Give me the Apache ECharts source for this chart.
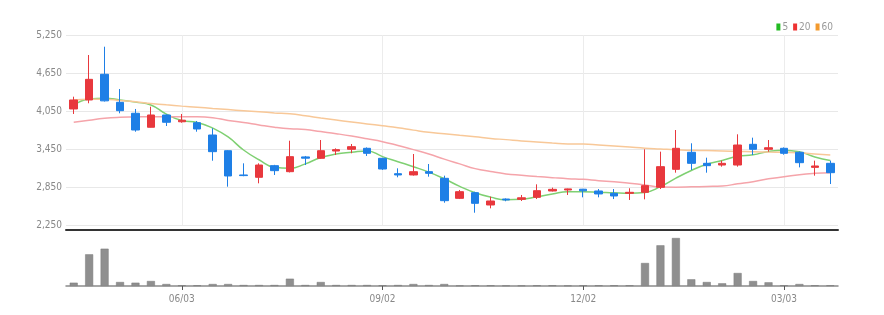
<!DOCTYPE html>
<html>
<head>
<meta charset="utf-8">
<script src="https://cdn.jsdelivr.net/npm/echarts@6/dist/echarts.min.js"></script>
<style>html,body{margin:0;padding:0;background:#fff}#c{width:884px;height:315px}</style>
</head>
<body>
<div id="c"></div>
<script>
const dates = ['04/15','04/22','04/29','05/06','05/13','05/20','05/27','06/03','06/10','06/17','06/24','07/01','07/08','07/15','07/22','07/29','08/05','08/12','08/19','08/26','09/02','09/09','09/16','09/23','09/30','10/07','10/14','10/21','10/28','11/04','11/11','11/18','11/25','12/02','12/09','12/16','12/23','12/30','01/06','01/13','01/20','01/27','02/03','02/10','02/17','02/24','03/03','03/10','03/17','03/24'];
const tickLabels = ['06/03','09/02','12/02','03/03'];
const openP  = [4082,4224,4630,4187,4014,3793,3987,3880,3865,3671,3423,3040,3003,3187,3092,3325,3303,3418,3445,3461,3303,3060,3040,3092,2987,2671,2760,2566,2660,2655,2687,2787,2803,2815,2787,2750,2750,2766,2845,3129,3398,3224,3197,3197,3524,3445,3461,3398,3160,3224];
const closeP = [4224,4550,4210,4055,3750,3987,3872,3905,3766,3408,3024,3030,3197,3108,3329,3305,3423,3440,3487,3382,3134,3040,3092,3066,2634,2776,2592,2629,2645,2680,2792,2813,2820,2790,2740,2708,2766,2871,3171,3461,3224,3187,3224,3513,3445,3470,3382,3234,3182,3076];
const lowP   = [4003,4172,4200,4014,3723,3790,3813,3865,3723,3265,2855,3020,2908,3040,3080,3197,3295,3355,3382,3340,3120,3003,3030,3013,2602,2660,2444,2513,2625,2629,2660,2780,2724,2687,2687,2660,2645,2655,2818,3076,3118,3076,3171,3171,3355,3408,3360,3160,3029,2897];
const highP  = [4276,4934,5065,4397,4082,4118,3995,4003,3892,3777,3430,3224,3224,3200,3581,3340,3592,3460,3529,3475,3310,3145,3371,3213,3029,2803,2775,2697,2670,2724,2892,2840,2825,2820,2818,2818,2830,3445,3408,3750,3540,3313,3266,3682,3629,3592,3475,3410,3266,3266];
const ma5  = [4140,4240,4250,4225,4190,4145,4000,3900,3870,3780,3640,3434,3280,3160,3145,3215,3315,3370,3398,3420,3330,3250,3171,3085,2980,2860,2760,2690,2648,2655,2695,2740,2776,2776,2768,2758,2752,2765,2855,2990,3110,3210,3270,3335,3360,3410,3432,3405,3325,3270];
const ma20 = [3871,3905,3935,3950,3955,3960,3960,3960,3960,3945,3900,3868,3830,3795,3770,3758,3725,3692,3655,3612,3566,3505,3440,3370,3290,3215,3140,3095,3057,3035,3015,2998,2982,2972,2950,2934,2910,2882,2850,2848,2852,2858,2866,2900,2934,2980,3010,3045,3066,3076];
const ma60 = [4225,4235,4235,4215,4195,4170,4147,4127,4110,4090,4072,4055,4038,4020,4005,3975,3940,3908,3875,3846,3816,3785,3748,3714,3690,3666,3642,3617,3598,3578,3562,3545,3530,3527,3513,3497,3480,3463,3450,3437,3430,3425,3420,3412,3406,3401,3397,3390,3372,3355];
const volume = [330,3170,3730,400,330,500,200,70,70,200,200,100,100,100,730,100,400,100,100,100,70,100,200,100,200,50,70,70,50,50,70,70,50,70,70,70,70,2300,4070,4800,670,400,270,1300,500,370,70,200,70,70];

const fontFam = "'Liberation Sans Narrow','DejaVu Sans Condensed',sans-serif";
const ohlc = dates.map((d,i)=>[openP[i], closeP[i], lowP[i], highP[i]]);
const isTick = (i)=> tickLabels.indexOf(dates[i]) >= 0;

const chart = echarts.init(document.getElementById('c'), null, {renderer:'canvas'});
chart.setOption({
  animation:false,
  backgroundColor:'#fff',
  legend:{
    right:46, top:17, itemWidth:4, itemHeight:7, itemGap:5, icon:'rect',
    textStyle:{color:'#999', fontSize:10, fontFamily:fontFam, padding:[0,0,0,-3]},
    data:['5','20','60']
  },
  grid:[
    {left:66, right:46, top:35, bottom:90},
    {left:66, right:46, top:232, bottom:29}
  ],
  xAxis:[
    {type:'category', gridIndex:0, data:dates, boundaryGap:true,
     offset:5,
     axisLine:{show:true, lineStyle:{color:'#333', width:2}},
     axisTick:{show:false}, axisLabel:{show:false}, splitLine:{show:false}},
    {type:'category', gridIndex:1, data:dates, boundaryGap:true,
     axisLine:{show:true, lineStyle:{color:'#8a8a8a', width:1.5}},
     axisTick:{show:true, alignWithLabel:true, interval:(i)=>isTick(i), length:4, lineStyle:{color:'#555'}},
     axisLabel:{show:true, interval:(i)=>isTick(i), color:'#888', fontSize:10, fontFamily:fontFam, margin:8},
     splitLine:{show:false}}
  ],
  yAxis:[
    {type:'value', gridIndex:0, min:2250, max:5250, interval:600,
     axisLine:{show:false}, axisTick:{show:false},
     axisLabel:{color:'#888', fontSize:10, fontFamily:fontFam, margin:4,
       formatter:(v)=>v.toLocaleString('en-US')},
     splitLine:{show:true, lineStyle:{color:'#e8e8e8', width:1}}},
    {type:'value', gridIndex:1, min:0, max:5400,
     axisLine:{show:false}, axisTick:{show:false}, axisLabel:{show:false}, splitLine:{show:false}}
  ],
  series:[
    {name:'5', type:'line', xAxisIndex:0, yAxisIndex:0, data:ma5, smooth:true, showSymbol:false,
     color:'#22bb22', lineStyle:{color:'#7fd072', width:1.5}, z:2},
    {name:'20', type:'line', xAxisIndex:0, yAxisIndex:0, data:ma20, smooth:true, showSymbol:false,
     color:'#ee3333', lineStyle:{color:'#f5a4aa', width:1.5}, z:2},
    {name:'60', type:'line', xAxisIndex:0, yAxisIndex:0, data:ma60, smooth:true, showSymbol:false,
     color:'#f39a2e', lineStyle:{color:'#f8c898', width:1.5}, z:2},
    {name:'price', type:'candlestick', xAxisIndex:0, yAxisIndex:0, data:ohlc, barWidth:8, z:3,
     itemStyle:{color:'#e8383d', color0:'#1e7fe6', borderColor:'#e8383d', borderColor0:'#1e7fe6', borderWidth:1},
     markLine:{silent:true, symbol:'none', label:{show:false}, z:1,
       lineStyle:{color:'#ececec', type:'solid', width:1},
       emphasis:{disabled:true},
       data:tickLabels.map(t=>({xAxis:t}))}},
    {name:'vol', type:'bar', xAxisIndex:1, yAxisIndex:1, data:volume, barWidth:8,
     itemStyle:{color:'#8f8f8f', borderColor:'#7a7a7a', borderWidth:0.5}}
  ]
});
</script>
</body>
</html>
